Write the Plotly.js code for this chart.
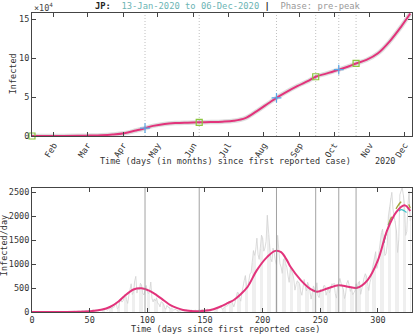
<!DOCTYPE html>
<html>
<head>
<meta charset="utf-8">
<script src="https://cdn.plot.ly/plotly-3.0.1.min.js"></script>
<style>
  body { margin: 0; background: #fff; }
  #graphique { width: 415px; height: 335px; }
</style>
</head>
<body>
<div id="graphique"></div>
<script>
// Jours depuis le premier cas (0 = 13-Jan-2020)
const jours_brut = Array.from({length: 329}, (_, i) => i);

// Cas journaliers (jours 0 a 328)
const cas_journaliers = [
  1, 0, 0, 1, 0, 1, 0, 0, 0, 0,
  0, 2, 0, 1, 3, 0, 1, 2, 0, 0,
  1, 0, 3, 2, 1, 0, 0, 4, 3, 6,
  2, 1, 5, 9, 12, 3, 8, 14, 7, 10,
  12, 22, 9, 17, 25, 14, 21, 30, 17, 33,
  27, 19, 36, 44, 28, 32, 47, 35, 21, 38,
  56, 41, 39, 44, 62, 35, 51, 71, 96, 65,
  112, 94, 163, 191, 69, 88, 225, 260, 207, 236,
  318, 375, 261, 180, 351, 503, 589, 366, 421, 640,
  744, 395, 510, 461, 600, 563, 392, 355, 470, 555,
  430, 383, 438, 625, 290, 210, 274, 231, 296, 182,
  168, 106, 216, 199, 175, 87, 56, 138, 101, 95,
  62, 82, 48, 36, 57, 38, 24, 20, 36, 42,
  30, 27, 21, 31, 40, 15, 12, 25, 40, 28,
  35, 43, 36, 14, 27, 45, 38, 42, 49, 19,
  35, 54, 60, 41, 53, 60, 57, 42, 48, 61,
  40, 68, 90, 96, 103, 57, 72, 110, 130, 121,
  139, 225, 203, 246, 179, 107, 192, 349, 410, 401,
  287, 226, 395, 589, 655, 762, 560, 497, 689, 800,
  818, 1016, 1284, 1180, 1295, 1542, 1200, 1100, 1325, 1602,
  1550, 1270, 1336, 1475, 2020, 1604, 1420, 1113, 1050, 1335,
  1240, 1080, 988, 1600, 1185, 1010, 940, 804, 1098, 1120,
  1005, 930, 758, 620, 912, 875, 809, 689, 456, 574,
  650, 630, 590, 430, 350, 510, 680, 532, 440, 620,
  560, 430, 270, 395, 545, 490, 405, 610, 340, 300,
  470, 460, 430, 550, 550, 350, 420, 520, 400, 540,
  590, 570, 600, 380, 290, 540, 600, 700, 600, 550,
  470, 280, 390, 600, 660, 560, 430, 520, 360, 400,
  440, 590, 510, 620, 640, 370, 460, 600, 720, 800,
  750, 530, 450, 620, 700, 890, 1030, 1130, 1260, 910,
  1000, 1280, 1510, 1660, 1730, 1520, 1180, 1220, 1390, 2000,
  2200, 2390, 2500, 2150, 2010, 1900, 1710, 1240, 1500, 2450,
  2520, 2600, 2440, 2250, 1600, 1680, 2250, 2520, 1900
];

// Courbe ajustee des cas journaliers
const jours_ajust = [0, 20, 40, 50, 60, 68, 75, 80, 88, 95, 102, 108, 115, 120, 126, 131, 138, 146, 155, 163, 170, 175, 181, 187, 195, 204, 211, 216, 221, 224, 233, 242, 247, 256, 266, 274, 282, 291, 300, 308, 316, 323, 328];
const ajust_journalier = [0, 1, 5, 15, 45, 110, 220, 330, 470, 495, 440, 354, 230, 146, 80, 42, 20, 18, 40, 110, 190, 250, 370, 527, 875, 1152, 1277, 1250, 1083, 950, 667, 472, 425, 490, 560, 528, 505, 667, 1083, 1708, 2090, 2229, 2110];

// Variantes de prevision en fin de periode
const jours_prev = [305, 310, 316, 320, 323, 326, 328];
const prev_haute = [1450, 1890, 2170, 2300, 2320, 2270, 2170];
const prev_basse = [1440, 1850, 2050, 2140, 2110, 2050, 2000];

// Cumul des cas (courbe du haut)
const jours_cumul = [0, 20, 40, 50, 60, 70, 80, 90, 98, 105, 115, 125, 135, 145, 155, 165, 175, 185, 195, 205, 212, 220, 230, 240, 246, 255, 266, 275, 281, 290, 300, 310, 320, 328];
const cumul = [0, 20, 200, 500, 900, 1800, 3500, 7000, 10000, 13000, 15500, 16600, 17100, 17500, 17800, 18300, 19500, 23000, 32000, 42000, 49000, 56000, 64000, 71000, 76000, 80000, 85000, 89500, 93000, 97500, 106000, 121000, 140000, 157000];

// Points remarquables
const jours_carres = [0, 145, 246, 281];
const valeurs_carres = [0, 17500, 76000, 93000];
const jours_croix = [98, 212, 266];
const valeurs_croix = [10000, 49000, 85000];

// Lignes verticales (changements de phase)
const jours_lignes = [98, 145, 212, 246, 266, 281];

// Graduations des mois
const jours_mois = [19, 48, 79, 109, 140, 170, 201, 232, 262, 293, 323];
const noms_mois = ["Feb", "Mar", "Apr", "May", "Jun", "Jul", "Aug", "Sep", "Oct", "Nov", "Dec"];

const rose = '#e2337b';
const police = 'DejaVu Sans Mono, monospace';

let donnees = [
  {x: jours_cumul, y: cumul, xaxis: 'x', yaxis: 'y', type: 'scatter', mode: 'lines',
   line: {color: 'rgba(120,120,120,0.25)', width: 4.5, shape: 'spline'}, hoverinfo: 'skip'},
  {x: jours_cumul, y: cumul, xaxis: 'x', yaxis: 'y', type: 'scatter', mode: 'lines',
   line: {color: rose, width: 2, shape: 'spline'}},
  {x: jours_croix, y: valeurs_croix, xaxis: 'x', yaxis: 'y', type: 'scatter', mode: 'markers',
   cliponaxis: false,
   marker: {symbol: 'cross-thin', size: 7, line: {color: '#5aa6e6', width: 1.2}}},
  {x: jours_carres, y: valeurs_carres, xaxis: 'x', yaxis: 'y', type: 'scatter', mode: 'markers',
   cliponaxis: false,
   marker: {symbol: 'square-open', size: 6, color: '#8cc63f', line: {width: 1.2}}},

  {x: jours_brut, y: cas_journaliers, xaxis: 'x2', yaxis: 'y2', type: 'bar',
   marker: {color: '#efefef'}, width: 0.5},
  {x: jours_brut, y: cas_journaliers, xaxis: 'x2', yaxis: 'y2', type: 'scatter', mode: 'lines',
   line: {color: '#d2d2d2', width: 0.8}},
  {x: jours_prev, y: prev_haute, xaxis: 'x2', yaxis: 'y2', type: 'scatter', mode: 'lines',
   line: {color: '#a3a33a', width: 1.3, dash: 'dash', shape: 'spline'}},
  {x: jours_prev, y: prev_basse, xaxis: 'x2', yaxis: 'y2', type: 'scatter', mode: 'lines',
   line: {color: '#3fc0c8', width: 1.3, dash: 'dash', shape: 'spline'}},
  {x: jours_ajust, y: ajust_journalier, xaxis: 'x2', yaxis: 'y2', type: 'scatter', mode: 'lines',
   line: {color: rose, width: 2, shape: 'spline'}}
];

let formes = [];
for (let j of jours_lignes) {
  formes.push({type: 'line', xref: 'x', yref: 'y domain', x0: j, x1: j, y0: 0, y1: 1,
               line: {color: '#b0b0b0', width: 0.8, dash: '1px,2px'}, layer: 'below'});
  formes.push({type: 'line', xref: 'x2', yref: 'y2 domain', x0: j, x1: j, y0: 0, y1: 1,
               line: {color: '#8a8a8a', width: 0.8}, layer: 'above'});
}

const axe_commun = {
  showline: true, linecolor: '#444', linewidth: 1, mirror: 'ticks',
  ticks: 'inside', ticklen: 4, tickcolor: '#444',
  showgrid: false, zeroline: false,
  tickfont: {family: police, size: 8.5, color: '#333'}
};

let apparence = {
  width: 415, height: 335,
  margin: {l: 32, r: 3, t: 13, b: 23},
  showlegend: false,
  paper_bgcolor: '#fff', plot_bgcolor: '#fff',
  bargap: 0,
  font: {family: police, size: 8.5, color: '#333'},
  xaxis: Object.assign({}, axe_commun, {
    domain: [0, 1], anchor: 'y', range: [0, 329.5],
    tickvals: jours_mois, ticktext: noms_mois, tickangle: -58
  }),
  yaxis: Object.assign({}, axe_commun, {
    domain: [0.5886, 1], anchor: 'x', range: [0, 157700],
    tickvals: [0, 50000, 100000, 150000], ticktext: ['0', '5', '10', '15']
  }),
  xaxis2: Object.assign({}, axe_commun, {
    domain: [0, 1], anchor: 'y2', range: [0, 329.5],
    tickvals: [0, 50, 100, 150, 200, 250, 300]
  }),
  yaxis2: Object.assign({}, axe_commun, {
    domain: [0, 0.4147], anchor: 'x2', range: [0, 2590],
    tickvals: [0, 500, 1000, 1500, 2000, 2500]
  }),
  shapes: formes,
  annotations: [
    {text: '<b>JP:</b>&nbsp;&nbsp;<span style="color:#6cb4b4">13-Jan-2020 to 06-Dec-2020</span>&nbsp;<b>|</b>&nbsp;&nbsp;<span style="color:#999">Phase: pre-peak</span>',
     xref: 'paper', yref: 'paper', x: 0.516, y: 1, yshift: 7, showarrow: false,
     xanchor: 'center', yanchor: 'middle', font: {family: police, size: 8.8, color: '#222'}},
    {text: '×10<sup>4</sup>', xref: 'paper', yref: 'paper', x: 0, y: 1, yshift: 6, xshift: 0,
     showarrow: false, xanchor: 'left', yanchor: 'middle', font: {family: police, size: 8.5, color: '#444'}},
    {text: 'Time (days (in months) since first reported case)', xref: 'paper', yref: 'paper',
     x: 0.51, y: 0.505, showarrow: false, xanchor: 'center', yanchor: 'middle'},
    {text: '2020', xref: 'x', yref: 'paper', x: 306, y: 0.505, showarrow: false,
     xanchor: 'center', yanchor: 'middle'},
    {text: 'Time (days since first reported case)', xref: 'paper', yref: 'paper',
     x: 0.51, y: 0, yshift: -17, showarrow: false, xanchor: 'center', yanchor: 'middle'},
    {text: 'Infected', xref: 'paper', yref: 'paper', x: 0, xshift: -19, y: 0.795,
     textangle: -90, showarrow: false, xanchor: 'center', yanchor: 'middle'},
    {text: 'Infected/day', xref: 'paper', yref: 'paper', x: 0, xshift: -28, y: 0.22,
     textangle: -90, showarrow: false, xanchor: 'center', yanchor: 'middle'}
  ]
};

Plotly.newPlot('graphique', donnees, apparence, {staticPlot: true});
</script>
</body>
</html>
